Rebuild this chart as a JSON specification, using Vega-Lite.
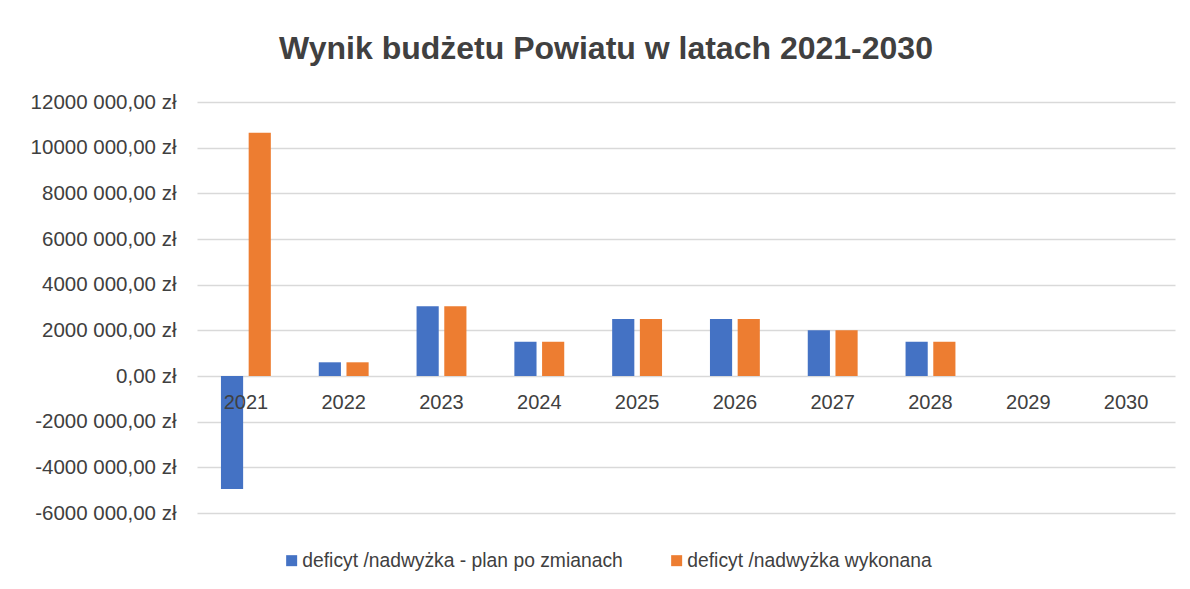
{
  "$schema": "https://vega.github.io/schema/vega-lite/v6.json",
  "autosize": {"type": "none"},
  "padding": {"left": 197, "top": 102, "right": 15, "bottom": 76},
  "width": 978,
  "height": 411,
  "background": "white",
  "title": {
    "text": "Wynik budżetu Powiatu w latach 2021-2030",
    "font": "Liberation Sans",
    "fontSize": 32,
    "fontWeight": "bold",
    "color": "#404040",
    "anchor": "middle",
    "frame": "group",
    "dx": -80,
    "offset": 26
  },
  "data": {
    "values": [
      {"rok": "2021", "seria": "deficyt /nadwyżka - plan po zmianach", "wartosc": -4950000},
      {"rok": "2021", "seria": "deficyt /nadwyżka wykonana", "wartosc": 10650000},
      {"rok": "2022", "seria": "deficyt /nadwyżka - plan po zmianach", "wartosc": 600000},
      {"rok": "2022", "seria": "deficyt /nadwyżka wykonana", "wartosc": 600000},
      {"rok": "2023", "seria": "deficyt /nadwyżka - plan po zmianach", "wartosc": 3050000},
      {"rok": "2023", "seria": "deficyt /nadwyżka wykonana", "wartosc": 3050000},
      {"rok": "2024", "seria": "deficyt /nadwyżka - plan po zmianach", "wartosc": 1500000},
      {"rok": "2024", "seria": "deficyt /nadwyżka wykonana", "wartosc": 1500000},
      {"rok": "2025", "seria": "deficyt /nadwyżka - plan po zmianach", "wartosc": 2500000},
      {"rok": "2025", "seria": "deficyt /nadwyżka wykonana", "wartosc": 2500000},
      {"rok": "2026", "seria": "deficyt /nadwyżka - plan po zmianach", "wartosc": 2500000},
      {"rok": "2026", "seria": "deficyt /nadwyżka wykonana", "wartosc": 2500000},
      {"rok": "2027", "seria": "deficyt /nadwyżka - plan po zmianach", "wartosc": 2000000},
      {"rok": "2027", "seria": "deficyt /nadwyżka wykonana", "wartosc": 2000000},
      {"rok": "2028", "seria": "deficyt /nadwyżka - plan po zmianach", "wartosc": 1500000},
      {"rok": "2028", "seria": "deficyt /nadwyżka wykonana", "wartosc": 1500000},
      {"rok": "2029", "seria": "deficyt /nadwyżka - plan po zmianach", "wartosc": 0},
      {"rok": "2029", "seria": "deficyt /nadwyżka wykonana", "wartosc": 0},
      {"rok": "2030", "seria": "deficyt /nadwyżka - plan po zmianach", "wartosc": 0},
      {"rok": "2030", "seria": "deficyt /nadwyżka wykonana", "wartosc": 0}
    ]
  },
  "mark": {"type": "bar"},
  "encoding": {
    "x": {
      "field": "rok",
      "type": "nominal",
      "scale": {"paddingInner": 0.49, "paddingOuter": 0.245},
      "axis": {
        "title": null,
        "orient": "bottom",
        "offset": -137,
        "domain": false,
        "ticks": false,
        "labelAngle": 0,
        "labelPadding": 16,
        "labelBaseline": "top",
        "labelFont": "Liberation Sans",
        "labelFontSize": 20,
        "labelColor": "#404040",
        "zindex": 1
      }
    },
    "xOffset": {
      "field": "seria",
      "type": "nominal",
      "sort": ["deficyt /nadwyżka - plan po zmianach", "deficyt /nadwyżka wykonana"],
      "scale": {"paddingInner": 0.2, "paddingOuter": 0}
    },
    "y": {
      "field": "wartosc",
      "type": "quantitative",
      "scale": {"domain": [-6000000, 12000000], "nice": false, "zero": true},
      "axis": {
        "title": null,
        "values": [-6000000, -4000000, -2000000, 0, 2000000, 4000000, 6000000, 8000000, 10000000, 12000000],
        "labelExpr": "datum.value == 0 ? '0,00 zł' : '' + (datum.value / 1000) + ' 000,00 zł'",
        "domain": false,
        "ticks": false,
        "grid": true,
        "gridColor": "#d9d9d9",
        "gridWidth": 1.5,
        "labelPadding": 21,
        "labelFont": "Liberation Sans",
        "labelFontSize": 20.5,
        "labelColor": "#404040"
      }
    },
    "color": {
      "field": "seria",
      "type": "nominal",
      "sort": ["deficyt /nadwyżka - plan po zmianach", "deficyt /nadwyżka wykonana"],
      "scale": {
        "domain": ["deficyt /nadwyżka - plan po zmianach", "deficyt /nadwyżka wykonana"],
        "range": ["#4472c4", "#ed7d31"]
      },
      "legend": {
        "title": null,
        "orient": "none",
        "direction": "horizontal",
        "legendX": 85,
        "legendY": 449,
        "padding": 0,
        "symbolType": "square",
        "symbolSize": 121,
        "symbolStrokeWidth": 0,
        "labelOffset": 1,
        "columnPadding": 44,
        "labelFont": "Liberation Sans",
        "labelFontSize": 19.3,
        "labelColor": "#404040",
        "labelLimit": 500
      }
    }
  },
  "config": {
    "view": {"stroke": null}
  }
}
